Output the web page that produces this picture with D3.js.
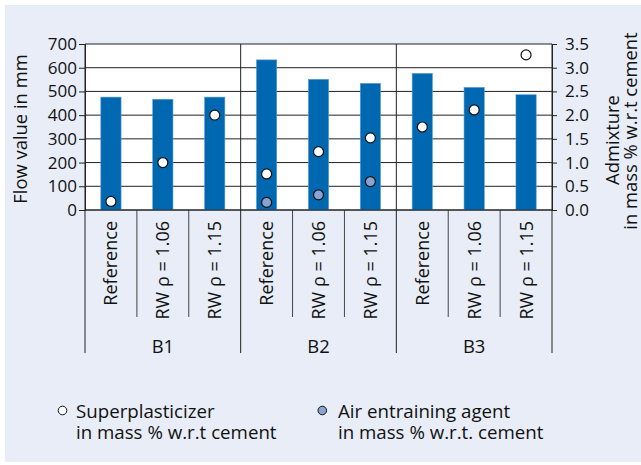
<!DOCTYPE html>
<html><head><meta charset="utf-8">
<script src="https://cdn.jsdelivr.net/npm/d3@7"></script>
<style>body{margin:0;background:#fff}svg{display:block;font-family:"Open Sans",sans-serif}</style>
</head><body>
<svg id="c" width="641" height="465"></svg>
<script>
const groups = ["B1", "B2", "B3"];
const categories = ["Reference", "RW ρ = 1.06", "RW ρ = 1.15"];
const flowValues = [476, 467, 476, 633, 551, 534, 576, 517, 486];
const superplasticizer = [0.18, 1.0, 2.0, 0.76, 1.23, 1.52, 1.75, 2.11, 3.27];
const airEntraining = [null, null, null, 0.16, 0.32, 0.6, null, null, null];
const leftTicks = [0, 100, 200, 300, 400, 500, 600, 700];
const rightTicks = [0, 0.5, 1, 1.5, 2, 2.5, 3, 3.5];
const legendLabels = [["Superplasticizer", "in mass % w.r.t cement"], ["Air entraining agent", "in mass % w.r.t. cement"]];

const rows = [];
groups.forEach((g, gi) => categories.forEach((c, ci) => {
  const i = gi * categories.length + ci;
  rows.push({id: g + "|" + c, group: g, cat: c, flow: flowValues[i], sp: superplasticizer[i], ae: airEntraining[i]});
}));

const svg = d3.select("#c");
const L = 85, R = 552, T = 44, B = 210;
const fsTick = 17, fs = 18.4, fsCat = 18, fsLeg = 18.7;
const ink = "#222";

svg.append("rect").attr("x", 5).attr("y", 5).attr("width", 636).attr("height", 457).attr("fill", "#e8edf7");
svg.append("rect").attr("x", L).attr("y", T).attr("width", R - L).attr("height", B - T).attr("fill", "#fff");

const x = d3.scaleBand().domain(rows.map(d => d.id)).range([L, R]);
const xBar = d3.scaleBand().domain(rows.map(d => d.id)).range([L, R]).paddingInner(0.61).paddingOuter(0.305);
const xGroup = d3.scaleBand().domain(groups).range([L, R]);
const y = d3.scaleLinear().domain([0, 700]).range([B, T]);
const y2 = d3.scaleLinear().domain([0, 3.5]).range([B, T]);

// grid
svg.append("g").selectAll("line").data(leftTicks).join("line")
  .attr("x1", L).attr("x2", R).attr("y1", d => y(d)).attr("y2", d => y(d))
  .attr("stroke", ink).attr("stroke-width", 1);

// bars
svg.append("g").selectAll("rect").data(rows).join("rect")
  .attr("x", d => xBar(d.id)).attr("width", xBar.bandwidth())
  .attr("y", d => y(d.flow)).attr("height", d => y(0) - y(d.flow))
  .attr("fill", "#0067b1").attr("stroke", "#5a9ad6").attr("stroke-width", 0.6);

// group dividers through the plot and below
groups.forEach((g, i) => {
  const gx = xGroup(g);
  svg.append("line").attr("x1", gx).attr("x2", gx).attr("y1", T).attr("y2", 353).attr("stroke", ink);
});
svg.append("line").attr("x1", R).attr("x2", R).attr("y1", T).attr("y2", 353).attr("stroke", ink);

// within-group category dividers below axis
rows.forEach((d, i) => {
  if (i % 3 !== 0) {
    const cx = x(d.id);
    svg.append("line").attr("x1", cx).attr("x2", cx).attr("y1", B).attr("y2", 317).attr("stroke", "#444");
  }
});

// axes
const yAxis = d3.axisLeft(y).tickValues(leftTicks).tickSize(6).tickPadding(2);
const ga = svg.append("g").attr("transform", `translate(${L},0)`).call(yAxis);
const y2Axis = d3.axisRight(y2).tickValues(rightTicks).tickSize(5).tickPadding(8).tickFormat(d3.format(".1f"));
const gb = svg.append("g").attr("transform", `translate(${R},0)`).call(y2Axis);
[ga, gb].forEach(g => {
  g.select(".domain").attr("stroke", ink);
  g.selectAll(".tick line").attr("stroke", ink);
  g.selectAll("text").attr("font-size", fsTick).attr("fill", "#111").attr("font-family", "'Open Sans',sans-serif");
});
svg.append("line").attr("x1", L).attr("x2", R).attr("y1", B).attr("y2", B).attr("stroke", ink);

// points
const pts = svg.append("g");
pts.selectAll("circle.sp").data(rows).join("circle").attr("class", "sp")
  .attr("cx", d => x(d.id) + x.bandwidth() / 2).attr("cy", d => y2(d.sp)).attr("r", 5)
  .attr("fill", "#fff").attr("stroke", "#111").attr("stroke-width", 1.2);
pts.selectAll("circle.ae").data(rows.filter(d => d.ae != null)).join("circle").attr("class", "ae")
  .attr("cx", d => x(d.id) + x.bandwidth() / 2).attr("cy", d => y2(d.ae)).attr("r", 5)
  .attr("fill", "#86a5d3").attr("stroke", "#111").attr("stroke-width", 1.2);

// category labels
svg.append("g").selectAll("text").data(rows).join("text")
  .attr("transform", d => `translate(${x(d.id) + x.bandwidth() / 2},221) rotate(-90)`)
  .attr("text-anchor", "end").attr("dy", "0.36em").attr("font-size", fsCat).attr("fill", "#111")
  .text(d => d.cat);

// group labels
svg.append("g").selectAll("text").data(groups).join("text")
  .attr("x", d => xGroup(d) + xGroup.bandwidth() / 2).attr("y", 353)
  .attr("text-anchor", "middle").attr("font-size", fs).attr("fill", "#111").text(d => d);

// axis titles
svg.append("text").attr("transform", `translate(27,${(T + B) / 2 + 2}) rotate(-90)`)
  .attr("text-anchor", "middle").attr("font-size", fs).attr("fill", "#111").text("Flow value in mm");
svg.append("text").attr("transform", `translate(619,140) rotate(-90)`)
  .attr("text-anchor", "middle").attr("font-size", fs).attr("fill", "#111").text("Admixture");
svg.append("text").attr("transform", `translate(637,131) rotate(-90)`)
  .attr("text-anchor", "middle").attr("font-size", fs).attr("fill", "#111").text("in mass % w.r.t cement");

// legend
const legX = [62.5, 322.3], legTextX = [76, 338], legFill = ["#fff", "#86a5d3"];
legendLabels.forEach((lab, i) => {
  svg.append("circle").attr("cx", legX[i]).attr("cy", 410.5).attr("r", 4.3)
    .attr("fill", legFill[i]).attr("stroke", "#111").attr("stroke-width", 1);
  const t = svg.append("text").attr("x", legTextX[i]).attr("y", 418).attr("font-size", fsLeg).attr("fill", "#111");
  t.append("tspan").attr("x", legTextX[i]).attr("y", 418).text(lab[0]);
  t.append("tspan").attr("x", legTextX[i]).attr("y", 439).text(lab[1]);
});
</script>
</body></html>
